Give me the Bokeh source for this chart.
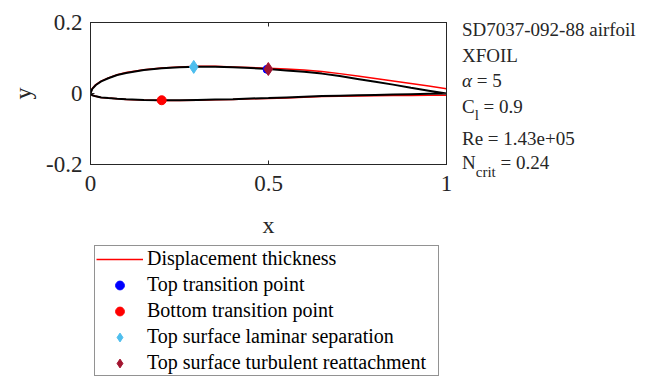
from bokeh.plotting import figure
from bokeh.models import Range1d, FixedTicker, LinearAxis, Legend, LegendItem, Div
from bokeh.layouts import row, column
from bokeh.embed import file_html
from bokeh.resources import INLINE

# ---------------- data ----------------
upper_x = [1.0, 0.95, 0.9, 0.85, 0.8, 0.75, 0.7, 0.65, 0.6, 0.55, 0.5, 0.45, 0.4,
           0.35, 0.3, 0.25, 0.2, 0.15, 0.1, 0.075, 0.05, 0.03, 0.015, 0.005, 0.0]
upper_y = [0.0, 0.008, 0.016, 0.025, 0.033, 0.041, 0.049, 0.056, 0.061, 0.065, 0.069,
           0.072, 0.074, 0.0755, 0.0755, 0.074, 0.071, 0.066, 0.058, 0.052, 0.043,
           0.034, 0.024, 0.013, 0.0]
lower_x = [0.0, 0.005, 0.015, 0.03, 0.05, 0.075, 0.1, 0.15, 0.2, 0.25, 0.3, 0.35, 0.4,
           0.45, 0.5, 0.55, 0.6, 0.65, 0.7, 0.75, 0.8, 0.85, 0.9, 0.95, 1.0]
lower_y = [0.0, -0.005, -0.008, -0.011, -0.013, -0.015, -0.0165, -0.018, -0.019, -0.019,
           -0.018, -0.017, -0.016, -0.014, -0.013, -0.011, -0.009, -0.007, -0.006,
           -0.005, -0.004, -0.003, -0.002, -0.001, 0.0]

# displacement-thickness surfaces
disp_upper_y = [0.0136, 0.021, 0.028, 0.035, 0.042, 0.049, 0.056, 0.062, 0.066, 0.069,
                0.071, 0.073, 0.075, 0.0765, 0.0765, 0.075, 0.072, 0.067, 0.059, 0.053,
                0.044, 0.035, 0.025, 0.014, 0.001]
disp_lower_y = [0.0, -0.005, -0.008, -0.011, -0.013, -0.015, -0.0167, -0.0183, -0.0194,
                -0.0196, -0.0187, -0.0178, -0.0169, -0.0151, -0.0142, -0.0124, -0.0106,
                -0.0088, -0.0080, -0.0072, -0.0064, -0.0058, -0.0053, -0.0050, -0.0048]

top_transition_x = [0.496]
top_transition_y = [0.068]
bottom_transition_x = [0.2]
bottom_transition_y = [-0.019]
laminar_sep_x = [0.29]
laminar_sep_y = [0.075]
turb_reattach_x = [0.4995]
turb_reattach_y = [0.069]

x_ticks = [0, 0.5, 1]
x_tick_labels = ["0", "0.5", "1"]
y_ticks = [-0.2, 0, 0.2]
y_tick_labels = ["-0.2", "0", "0.2"]

airfoil_name = "SD7037-092-88 airfoil"
solver = "XFOIL"
alpha_val = "5"
cl_val = "0.9"
re_val = "1.43e+05"
ncrit_val = "0.24"

legend_labels = ["Displacement thickness", "Top transition point", "Bottom transition point",
                 "Top surface laminar separation", "Top surface turbulent reattachment"]

# ---------------- styles ----------------
FONT = "Liberation Serif"
AX = "#262626"
C_DISP = "#FF0000"
C_TOP_TR = "#0000FF"
C_BOT_TR = "#FF0000"
C_LAM = "#4DBEEE"
C_TURB = "#A2142F"

# ---------------- main axes ----------------
L, R, T, B = 90, 10, 22, 77
W, H = 456, 241

p = figure(width=W, height=H, output_backend="svg", toolbar_location=None,
           x_range=Range1d(0, 1), y_range=Range1d(-0.2, 0.2),
           min_border_left=L, min_border_right=R, min_border_top=T, min_border_bottom=B,
           background_fill_color="white", border_fill_color="white")
p.grid.visible = False
p.outline_line_color = AX
p.outline_line_width = 1


def style_axis(ax, ticks, labels):
    ax.ticker = FixedTicker(ticks=ticks)
    ax.major_label_overrides = {t: s for t, s in zip(ticks, labels)}
    ax.major_tick_in = 4
    ax.major_tick_out = 0
    ax.minor_tick_line_color = None
    ax.axis_line_color = AX
    ax.major_tick_line_color = AX
    ax.major_label_text_font = FONT
    ax.major_label_text_font_size = "23px"
    ax.major_label_text_color = AX
    ax.axis_label_text_font = FONT
    ax.axis_label_text_font_size = "24px"
    ax.axis_label_text_font_style = "normal"
    ax.axis_label_text_color = AX


xa = p.xaxis[0]
ya = p.yaxis[0]
style_axis(xa, x_ticks, x_tick_labels)
style_axis(ya, y_ticks, y_tick_labels)
xa.axis_label = "x"
ya.axis_label = "y"
xa.major_label_standoff = 11
xa.axis_label_standoff = 18
ya.major_label_standoff = 8
ya.axis_label_standoff = 7

top_ax = LinearAxis()
style_axis(top_ax, x_ticks, ["", "", ""])
right_ax = LinearAxis()
style_axis(right_ax, y_ticks, ["", "", ""])
p.add_layout(top_ax, "above")
p.add_layout(right_ax, "right")


def draw_marks(fig):
    r_du = fig.line(upper_x, disp_upper_y, line_color=C_DISP, line_width=1.5)
    fig.line(lower_x, disp_lower_y, line_color=C_DISP, line_width=1.5)
    fig.line(upper_x + lower_x[1:], upper_y + lower_y[1:], line_color="black", line_width=2)
    r_tt = fig.scatter(top_transition_x, top_transition_y, marker="circle", size=8,
                       fill_color=C_TOP_TR, line_color=C_TOP_TR)
    r_bt = fig.scatter(bottom_transition_x, bottom_transition_y, marker="circle", size=9,
                       fill_color=C_BOT_TR, line_color=C_BOT_TR)
    r_ls = fig.scatter(laminar_sep_x, laminar_sep_y, marker="diamond", size=13,
                       fill_color=C_LAM, line_color=C_LAM)
    r_tr = fig.scatter(turb_reattach_x, turb_reattach_y, marker="diamond", size=13,
                       fill_color=C_TURB, line_color=C_TURB)
    return [r_du, r_tt, r_bt, r_ls, r_tr]


draw_marks(p)

# ---------------- legend panel (below the axes) ----------------
# Same series drawn again, but the view range is set away from the data so that only
# the legend entries of this panel are visible.
lg = figure(width=W, height=381 - H, output_backend="svg", toolbar_location=None,
            x_range=Range1d(10, 11), y_range=Range1d(10, 11),
            x_axis_type=None, y_axis_type=None, min_border=0,
            background_fill_color="white", border_fill_color="white")
lg.grid.visible = False
lg.outline_line_color = None
lg_renderers = draw_marks(lg)

legend = Legend(items=[LegendItem(label=lab, renderers=[r])
                       for lab, r in zip(legend_labels, lg_renderers)],
                location="top_left", margin=4, label_text_font=FONT,
                label_text_font_size="20px", label_text_color="black",
                glyph_width=47, glyph_height=22, label_height=22, label_width=290,
                spacing=3, padding=1, label_standoff=4,
                border_line_color=AX, border_line_width=1,
                background_fill_color="white", background_fill_alpha=1)
lg.add_layout(legend)

# ---------------- right-hand annotation text ----------------
line_css = ("position:absolute;left:6px;white-space:nowrap;font-family:'Liberation Serif';"
            "font-size:19px;line-height:19px;color:%s;" % AX)
sub_css = "font-size:15px;position:relative;top:%dpx;"


def text_line(top, html):
    return '<div style="%stop:%dpx;">%s</div>' % (line_css, top, html)


info_html = (
    '<div style="position:relative;width:190px;height:200px;">'
    + text_line(20, airfoil_name)
    + text_line(46, solver)
    + text_line(71, "<i>α</i> = " + alpha_val)
    + text_line(97, 'C<span style="%s">l</span> = %s' % (sub_css % 7, cl_val))
    + text_line(129, "Re = " + re_val)
    + text_line(153, 'N<span style="%s">crit</span> = %s' % (sub_css % 8, ncrit_val))
    + "</div>"
)
info = Div(text=info_html, width=190, height=200, margin=0)

layout = row(column(p, lg, spacing=0), info, spacing=0)

open("out.html", "w").write(file_html(layout, INLINE))
